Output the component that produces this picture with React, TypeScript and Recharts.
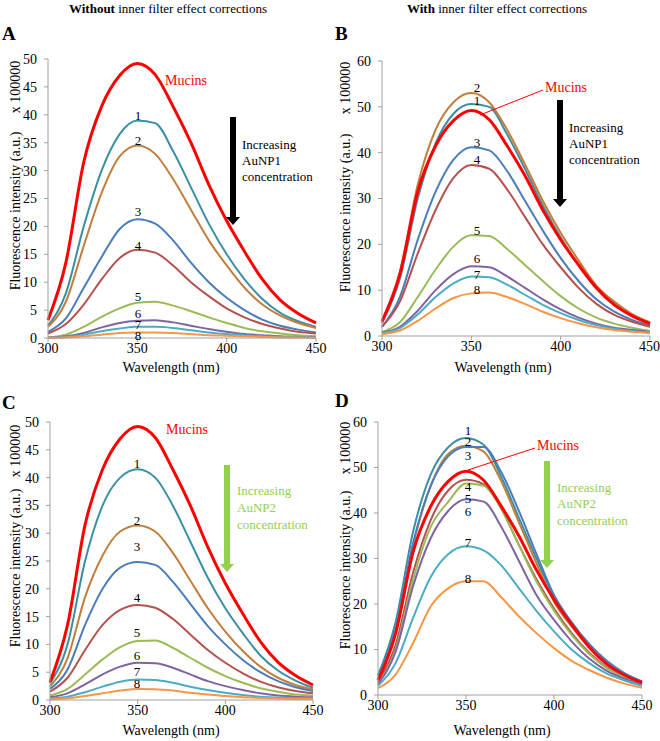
import React from "react";
import { LineChart, Line, XAxis, YAxis } from "recharts";

// wavelength grid (nm)
const wavelengths = [300, 310, 320, 330, 340, 350, 360, 370, 380, 390, 400, 410, 420, 430, 440, 450];

// mucins alone, same spectrum in every panel (x 100000)
const mucins = [3.2, 13.5, 31.5, 41.5, 47, 49.2, 47.2, 41.5, 35, 27.5, 21, 15.5, 10.5, 6.8, 4.4, 2.7];

// A: AuNP1, without inner filter correction
const a1 = [2.2, 8, 20, 30, 36.5, 39, 38.5, 33.5, 27, 20.5, 15, 10.5, 7, 4.5, 3, 2];
const a2 = [2, 6.5, 16.5, 26, 32.5, 34.5, 33, 28.5, 23, 17.5, 13, 9, 6, 4, 2.7, 1.8];
const a3 = [1.1, 3.5, 9, 14.5, 19.5, 21.3, 20.5, 17.5, 13.5, 10, 7.2, 5, 3.3, 2.2, 1.5, 1];
const a4 = [0.8, 2.5, 6, 10.5, 14.3, 15.8, 15.3, 13, 10, 7.5, 5.3, 3.7, 2.5, 1.7, 1.1, 0.8];
const a5 = [0.1, 0.6, 2, 3.8, 5.3, 6.3, 6.5, 5.8, 4.8, 3.7, 2.7, 1.8, 1.2, 0.8, 0.5, 0.3];
const a6 = [0.1, 0.3, 0.9, 1.9, 2.7, 3.1, 3.2, 2.8, 2.2, 1.6, 1.1, 0.7, 0.5, 0.3, 0.2, 0.15];
const a7 = [0.05, 0.2, 0.6, 1.2, 1.7, 2, 2, 1.8, 1.4, 1, 0.7, 0.5, 0.3, 0.2, 0.15, 0.1];
const a8 = [0.05, 0.1, 0.3, 0.6, 0.9, 1, 1, 0.9, 0.7, 0.5, 0.4, 0.3, 0.2, 0.1, 0.1, 0.05];

// B: AuNP1, with inner filter correction
const b1 = [2.8, 12.5, 30, 42, 48.5, 50.6, 50, 44, 36.5, 28.5, 21.5, 15.5, 10.5, 7, 4.5, 2.8];
const b2 = [3.2, 14, 33, 45, 51, 53, 51, 45, 37.5, 29.5, 22.5, 16.5, 11, 7.5, 4.8, 3];
const b3 = [2, 8.5, 21, 31.5, 38.5, 41.2, 40.5, 36, 29.5, 23, 17, 12, 8, 5.3, 3.5, 2.3];
const b4 = [2, 7.5, 18, 27.5, 34.5, 37.3, 36.5, 32, 26, 20, 15, 10.5, 7, 4.6, 3.1, 2];
const b5 = [0.9, 3, 8.5, 14.5, 19.5, 22, 21.8, 19, 15.5, 12, 8.7, 6, 4, 2.7, 1.8, 1.1];
const b6 = [0.7, 2, 5.5, 10, 13.5, 15.2, 15, 13, 10.5, 8, 5.8, 4, 2.7, 1.8, 1.3, 0.9];
const b7 = [0.6, 1.7, 4.7, 8.5, 11.5, 13, 12.8, 11.2, 9, 6.8, 5, 3.5, 2.4, 1.6, 1.1, 0.8];
const b8 = [0.4, 1.2, 3.3, 6, 8.3, 9.3, 9.5, 8.5, 7, 5.3, 3.9, 2.8, 1.9, 1.3, 0.9, 0.6];

// C: AuNP2, without inner filter correction
const c1 = [3, 10, 25, 35, 40, 41.5, 40, 35, 28.5, 22, 16.5, 12, 8, 5.3, 3.5, 2.2];
const c2 = [2.5, 7.5, 18.5, 26, 30.3, 31.4, 30.3, 26.5, 21.5, 16.5, 12.3, 8.8, 6, 4, 2.7, 1.9];
const c3 = [2, 5.5, 13.5, 20, 23.8, 24.8, 24.3, 21.3, 17.3, 13.3, 10, 7.2, 5, 3.4, 2.3, 1.6];
const c4 = [1.5, 4, 9, 13.5, 16.2, 17.1, 16.6, 14.6, 11.8, 9, 6.7, 4.8, 3.3, 2.3, 1.6, 1.2];
const c5 = [0.8, 2, 4.6, 7.3, 9.5, 10.6, 10.7, 9.4, 7.6, 5.8, 4.3, 3.1, 2.1, 1.5, 1, 0.8];
const c6 = [0.5, 1.2, 2.8, 4.6, 6, 6.7, 6.6, 5.8, 4.6, 3.4, 2.5, 1.8, 1.2, 0.8, 0.6, 0.5];
const c7 = [0.3, 0.6, 1.4, 2.4, 3.3, 3.7, 3.6, 3.1, 2.4, 1.8, 1.3, 0.9, 0.6, 0.45, 0.35, 0.3];
const c8 = [0.1, 0.3, 0.7, 1.2, 1.7, 2, 1.95, 1.7, 1.3, 1, 0.7, 0.5, 0.35, 0.25, 0.2, 0.2];

// D: AuNP2, with inner filter correction
const d1 = [4.3, 16, 36, 48.5, 54.5, 56.5, 55, 48, 39, 30, 21.5, 15.5, 10.8, 7.2, 4.6, 3];
const d2 = [3.6, 14, 33, 46, 53, 54.8, 53.5, 47, 38, 29, 20.5, 15, 10.5, 7, 4.5, 2.8];
const d3 = [4, 14.5, 33.5, 46, 52.5, 54.5, 54.5, 49, 40.5, 31, 22, 16, 11.2, 7.5, 4.8, 3];
const d4 = [2.8, 11, 27, 38.5, 45, 47.3, 46.3, 41, 33, 25.5, 19, 13.6, 9.3, 6.1, 4, 2.6];
const d5 = [2.6, 10, 25.5, 37, 42.5, 46.5, 46, 41, 33, 25, 18.5, 13.2, 9, 5.9, 3.9, 2.5];
const d6 = [2.4, 9.5, 24, 34.5, 40.5, 43, 42.5, 37, 29.5, 22, 16.5, 11.8, 8, 5.3, 3.6, 2.4];
const d7 = [2, 7, 17, 26, 31, 32.7, 31.8, 28.5, 23.5, 18.5, 14, 10, 7, 4.7, 3.2, 2];
const d8 = [1.5, 4.5, 11.5, 19.5, 23.5, 25, 25, 21.5, 17.3, 13.6, 10.3, 7.5, 5.5, 3.8, 2.5, 1.6];

const seriesColors = ["#3A8FA5", "#C27E3C", "#4A7EBB", "#B5514E", "#9BBB59", "#8064A2", "#4BACC6", "#F79646"];

const ticksA = [0, 5, 10, 15, 20, 25, 30, 35, 40, 45, 50];
const ticksB = [0, 10, 20, 30, 40, 50, 60];
const xTicks = [300, 350, 400, 450];

const serif = "'Liberation Serif', 'Times New Roman', serif";

type PanelProps = {
  left: number;
  top: number;
  height: number;
  margin: { top: number; right: number; left: number; bottom: number };
  yWidth: number;
  xHeight: number;
  yMax: number;
  yTicks: number[];
  curves: number[][];
};

function Panel({ left, top, height, margin, yWidth, xHeight, yMax, yTicks, curves }: PanelProps) {
  const rows = wavelengths.map((nm, i) => {
    const r: Record<string, number> = { nm, mucins: mucins[i] };
    curves.forEach((c, k) => {
      r["s" + (k + 1)] = c[i];
    });
    return r;
  });
  return (
    <div style={{ position: "absolute", left, top }}>
      <LineChart width={330} height={height} data={rows} margin={margin}>
        <XAxis
          type="number"
          dataKey="nm"
          domain={[300, 450]}
          ticks={xTicks}
          height={xHeight}
          stroke="#a0a0a0"
          tickSize={4}
          tickMargin={1}
          tick={{ fill: "#000", fontSize: 14, fontFamily: serif }}
        />
        <YAxis
          type="number"
          domain={[0, yMax]}
          ticks={yTicks}
          width={yWidth}
          stroke="#a0a0a0"
          tickSize={4}
          tickMargin={7}
          tick={{ fill: "#000", fontSize: 14, fontFamily: serif }}
        />
        {curves.map((_, k) => (
          <Line
            key={k}
            type="monotone"
            dataKey={"s" + (k + 1)}
            stroke={seriesColors[k]}
            strokeWidth={2}
            dot={false}
            isAnimationActive={false}
          />
        ))}
        <Line type="monotone" dataKey="mucins" stroke="#FF0000" strokeWidth={3} dot={false} isAnimationActive={false} />
      </LineChart>
    </div>
  );
}

function Arrow({ x, y1, y2, color }: { x: number; y1: number; y2: number; color: string }) {
  return (
    <g fill={color}>
      <rect x={x - 3} y={y1} width={6} height={y2 - y1 - 8} />
      <polygon points={`${x - 7},${y2 - 8} ${x + 7},${y2 - 8} ${x},${y2}`} />
    </g>
  );
}

function NumLabels({ x, ys }: { x: number; ys: number[] }) {
  return (
    <>
      {ys.map((y, i) => (
        <text key={i} x={x} y={y} textAnchor="middle" dominantBaseline="central" fontSize={13}>
          {i + 1}
        </text>
      ))}
    </>
  );
}

function YTitle({ x, y1, y2 }: { x: number; y1: number; y2: number }) {
  return (
    <>
      <text x={x} y={y1} transform={`rotate(-90 ${x} ${y1})`} textAnchor="middle" dominantBaseline="central" fontSize={14}>
        x 100000
      </text>
      <text x={x} y={y2} transform={`rotate(-90 ${x} ${y2})`} textAnchor="middle" dominantBaseline="central" fontSize={14}>
        Fluorescence intensity (a.u.)
      </text>
    </>
  );
}

export default function App() {
  return (
    <div style={{ position: "absolute", left: 0, top: 0, width: 660, height: 741, background: "#fff", fontFamily: serif }}>
      <Panel left={0} top={0} height={370} margin={{ top: 59, right: 14, left: 0, bottom: 0 }} yWidth={48} xHeight={32} yMax={50} yTicks={ticksA} curves={[a1, a2, a3, a4, a5, a6, a7, a8]} />
      <Panel left={330} top={0} height={370} margin={{ top: 61, right: 10, left: 0, bottom: 0 }} yWidth={52} xHeight={34} yMax={60} yTicks={ticksB} curves={[b1, b2, b3, b4, b5, b6, b7, b8]} />
      <Panel left={0} top={370} height={371} margin={{ top: 52, right: 17, left: 0, bottom: 0 }} yWidth={50} xHeight={41} yMax={50} yTicks={ticksA} curves={[c1, c2, c3, c4, c5, c6, c7, c8]} />
      <Panel left={330} top={370} height={371} margin={{ top: 52, right: 18, left: 0, bottom: 0 }} yWidth={48} xHeight={46} yMax={60} yTicks={ticksB} curves={[d1, d2, d3, d4, d5, d6, d7, d8]} />

      <svg width={660} height={741} style={{ position: "absolute", left: 0, top: 0, pointerEvents: "none" }} fontFamily={serif}>
        {/* column titles */}
        <text x={168} y={13} textAnchor="middle" fontSize={13}>
          <tspan fontWeight="bold">Without</tspan> inner filter effect corrections
        </text>
        <text x={497} y={13} textAnchor="middle" fontSize={13}>
          <tspan fontWeight="bold">With</tspan> inner filter effect corrections
        </text>

        {/* panel letters */}
        <text x={2} y={40} fontSize={19} fontWeight="bold">A</text>
        <text x={335} y={40} fontSize={19} fontWeight="bold">B</text>
        <text x={2} y={409} fontSize={19} fontWeight="bold">C</text>
        <text x={335} y={407} fontSize={19} fontWeight="bold">D</text>

        {/* axis titles */}
        <YTitle x={15} y1={87} y2={211} />
        <YTitle x={345} y1={88} y2={213} />
        <YTitle x={15} y1={451} y2={568} />
        <YTitle x={345} y1={448} y2={570} />
        <text x={171} y={367} textAnchor="middle" dominantBaseline="central" fontSize={14}>Wavelength (nm)</text>
        <text x={503} y={367} textAnchor="middle" dominantBaseline="central" fontSize={14}>Wavelength (nm)</text>
        <text x={171} y={730} textAnchor="middle" dominantBaseline="central" fontSize={14}>Wavelength (nm)</text>
        <text x={502} y={730} textAnchor="middle" dominantBaseline="central" fontSize={14}>Wavelength (nm)</text>

        {/* A annotations */}
        <text x={165} y={80} dominantBaseline="central" fontSize={14} fill="#FF0000">Mucins</text>
        <NumLabels x={138} ys={[115, 140, 211, 245, 296, 313, 324, 335]} />
        <Arrow x={233} y1={117} y2={225} color="#000" />
        <text x={242} y={144} dominantBaseline="central" fontSize={13}>Increasing</text>
        <text x={242} y={160} dominantBaseline="central" fontSize={13}>AuNP1</text>
        <text x={242} y={176} dominantBaseline="central" fontSize={13}>concentration</text>

        {/* B annotations */}
        <text x={545} y={87} dominantBaseline="central" fontSize={14} fill="#FF0000">Mucins</text>
        <line x1={543} y1={90} x2={480} y2={115} stroke="#FF0000" strokeWidth={1} />
        <text x={477} y={87} textAnchor="middle" dominantBaseline="central" fontSize={13}>2</text>
        <text x={477} y={100} textAnchor="middle" dominantBaseline="central" fontSize={13}>1</text>
        <text x={477} y={142} textAnchor="middle" dominantBaseline="central" fontSize={13}>3</text>
        <text x={477} y={159} textAnchor="middle" dominantBaseline="central" fontSize={13}>4</text>
        <text x={477} y={230} textAnchor="middle" dominantBaseline="central" fontSize={13}>5</text>
        <text x={477} y={258} textAnchor="middle" dominantBaseline="central" fontSize={13}>6</text>
        <text x={477} y={274} textAnchor="middle" dominantBaseline="central" fontSize={13}>7</text>
        <text x={477} y={289} textAnchor="middle" dominantBaseline="central" fontSize={13}>8</text>
        <Arrow x={560} y1={100} y2={207} color="#000" />
        <text x={569} y={127} dominantBaseline="central" fontSize={13}>Increasing</text>
        <text x={569} y={143} dominantBaseline="central" fontSize={13}>AuNP1</text>
        <text x={569} y={159} dominantBaseline="central" fontSize={13}>concentration</text>

        {/* C annotations */}
        <text x={166} y={429} dominantBaseline="central" fontSize={14} fill="#FF0000">Mucins</text>
        <NumLabels x={137} ys={[463, 520, 546, 597, 632, 655, 671, 683]} />
        <Arrow x={227} y1={465} y2={572} color="#92D050" />
        <text x={237} y={490} dominantBaseline="central" fontSize={13} fill="#92D050">Increasing</text>
        <text x={237} y={507} dominantBaseline="central" fontSize={13} fill="#92D050">AuNP2</text>
        <text x={237} y={524} dominantBaseline="central" fontSize={13} fill="#92D050">concentration</text>

        {/* D annotations */}
        <text x={537} y={445} dominantBaseline="central" fontSize={14} fill="#FF0000">Mucins</text>
        <line x1={535} y1={448} x2={468} y2={470} stroke="#FF0000" strokeWidth={1} />
        <NumLabels x={468} ys={[430, 441, 455, 486, 498, 511, 542, 578]} />
        <Arrow x={547} y1={461} y2={568} color="#92D050" />
        <text x={557} y={487} dominantBaseline="central" fontSize={13} fill="#92D050">Increasing</text>
        <text x={557} y={503} dominantBaseline="central" fontSize={13} fill="#92D050">AuNP2</text>
        <text x={557} y={520} dominantBaseline="central" fontSize={13} fill="#92D050">concentration</text>
      </svg>
    </div>
  );
}
